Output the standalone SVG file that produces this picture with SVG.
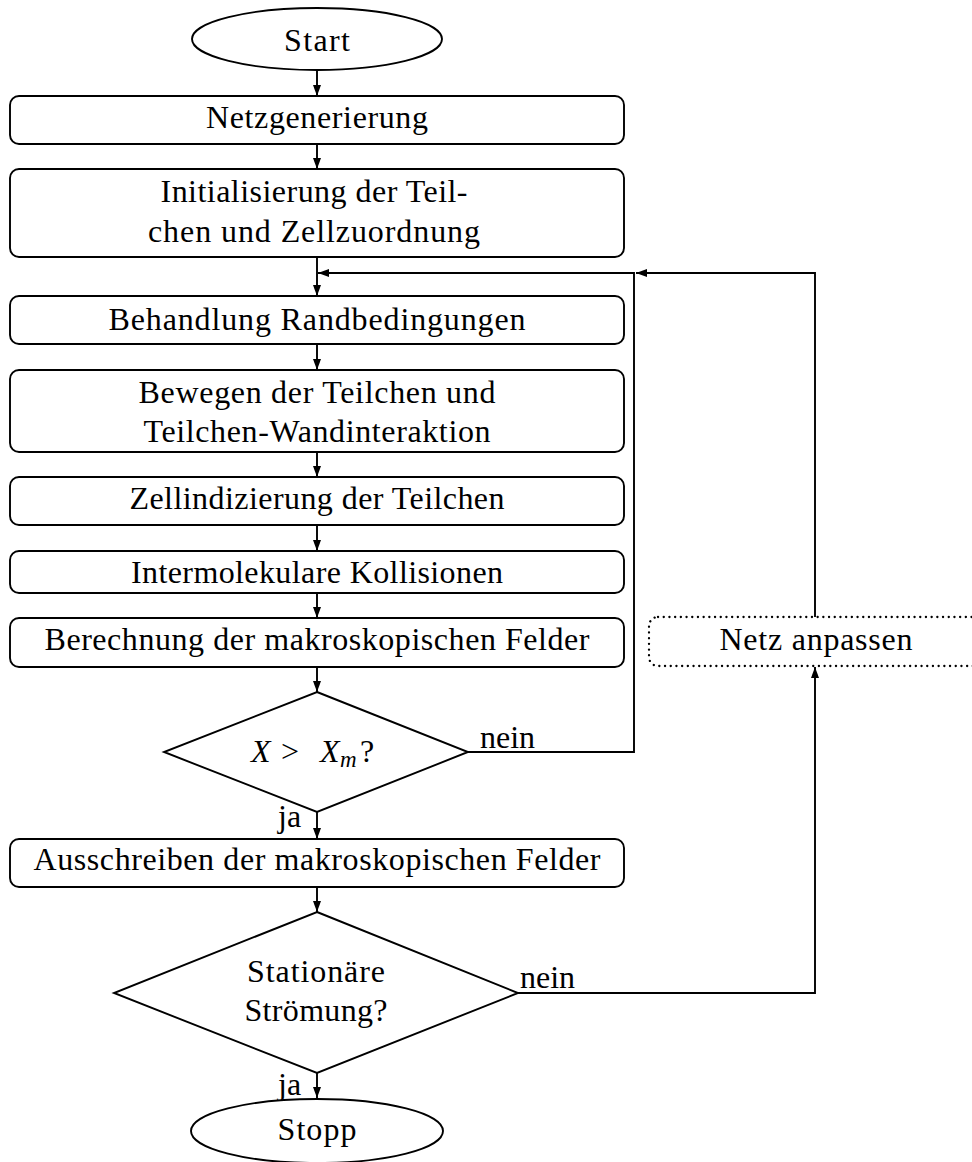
<svg xmlns="http://www.w3.org/2000/svg" width="972" height="1162" viewBox="0 0 972 1162">
<style>
.t{font-family:"Liberation Serif","DejaVu Serif",serif;font-size:32px;fill:#000;text-anchor:middle}
.l{font-family:"Liberation Serif","DejaVu Serif",serif;font-size:32px;fill:#000}
.b{fill:#fff;stroke:#000;stroke-width:1.9}
.d{fill:#fff;stroke:#000;stroke-width:2.3;stroke-dasharray:0.1 5.6;stroke-linecap:round}
.c{fill:none;stroke:#000;stroke-width:1.9}
.a{marker-end:url(#ah)}
</style>
<defs>
<marker id="ah" viewBox="0 0 11 8" refX="11" refY="4" markerWidth="11" markerHeight="8" markerUnits="userSpaceOnUse" orient="auto">
<path d="M0,0 L11,4 L0,8 z" fill="#000"/>
</marker>
</defs>
<rect width="972" height="1162" fill="#fff"/>
<g id="connectors">
<line class="c a" x1="317" y1="70" x2="317" y2="96"/>
<line class="c a" x1="317" y1="144" x2="317" y2="169"/>
<line class="c a" x1="317" y1="257" x2="317" y2="296"/>
<line class="c a" x1="317" y1="344" x2="317" y2="370"/>
<line class="c a" x1="317" y1="452" x2="317" y2="477"/>
<line class="c a" x1="317" y1="525" x2="317" y2="551"/>
<line class="c a" x1="317" y1="593" x2="317" y2="618"/>
<line class="c a" x1="317" y1="667" x2="317" y2="692"/>
<line class="c a" x1="317" y1="812" x2="317" y2="839"/>
<line class="c a" x1="317" y1="887" x2="317" y2="912"/>
<line class="c a" x1="317" y1="1073" x2="317" y2="1098"/>
<polyline class="c a" points="468,752 634,752 634,273 318,273"/>
<polyline class="c a" points="815,617 815,273 636,273"/>
<polyline class="c a" points="518,993 815,993 815,667"/>
<text class="l" x="480" y="748">nein</text>
<text class="l" x="520" y="988">nein</text>
<text class="l" x="278" y="827">ja</text>
<text class="l" x="278" y="1095">ja</text>
</g>
<g id="start">
<ellipse class="b" cx="317" cy="39" rx="125" ry="31"/>
<text class="t" x="317" y="51" textLength="66">Start</text>
</g>
<g id="netzgenerierung">
<rect class="b" x="10" y="96" width="614" height="48" rx="9"/>
<text class="t" x="317" y="128" textLength="222">Netzgenerierung</text>
</g>
<g id="initialisierung">
<rect class="b" x="10" y="169" width="614" height="88" rx="9"/>
<text class="t" x="314" y="202" textLength="307">Initialisierung der Teil-</text>
<text class="t" x="314" y="242" textLength="332">chen und Zellzuordnung</text>
</g>
<g id="behandlung">
<rect class="b" x="10" y="296" width="614" height="48" rx="9"/>
<text class="t" x="317" y="330" textLength="417">Behandlung Randbedingungen</text>
</g>
<g id="bewegen">
<rect class="b" x="10" y="370" width="614" height="82" rx="9"/>
<text class="t" x="317" y="403" textLength="357">Bewegen der Teilchen und</text>
<text class="t" x="317" y="442" textLength="347">Teilchen-Wandinteraktion</text>
</g>
<g id="zellindizierung">
<rect class="b" x="10" y="477" width="614" height="48" rx="9"/>
<text class="t" x="317" y="509" textLength="375">Zellindizierung der Teilchen</text>
</g>
<g id="intermolekulare">
<rect class="b" x="10" y="551" width="614" height="42" rx="9"/>
<text class="t" x="317" y="583" textLength="372">Intermolekulare Kollisionen</text>
</g>
<g id="berechnung">
<rect class="b" x="10" y="618" width="614" height="49" rx="9"/>
<text class="t" x="317" y="650" textLength="545">Berechnung der makroskopischen Felder</text>
</g>
<g id="decision1">
<polygon class="b" points="317,692 468,752 317,812 164,752"/>
<text class="l" y="762"><tspan x="251" font-style="italic">X</tspan><tspan x="281">&gt;</tspan><tspan x="320" font-style="italic">X</tspan><tspan x="340" font-style="italic" font-size="23" dy="5">m</tspan><tspan x="360" dy="-5">?</tspan></text>
</g>
<g id="ausschreiben">
<rect class="b" x="10" y="839" width="614" height="48" rx="9"/>
<text class="t" x="317" y="870" textLength="567">Ausschreiben der makroskopischen Felder</text>
</g>
<g id="decision2">
<polygon class="b" points="317,912 518,993 317,1073 114,993"/>
<text class="t" x="316" y="982" textLength="138">Stationäre</text>
<text class="t" x="316" y="1021" textLength="143">Strömung?</text>
</g>
<g id="stopp">
<ellipse class="b" cx="317" cy="1131" rx="126" ry="32"/>
<text class="t" x="317" y="1140" textLength="79">Stopp</text>
</g>
<g id="netzanpassen">
<rect class="d" x="649" y="617" width="334" height="49" rx="9"/>
<text class="t" x="816" y="650" textLength="193">Netz anpassen</text>
</g>
</svg>
